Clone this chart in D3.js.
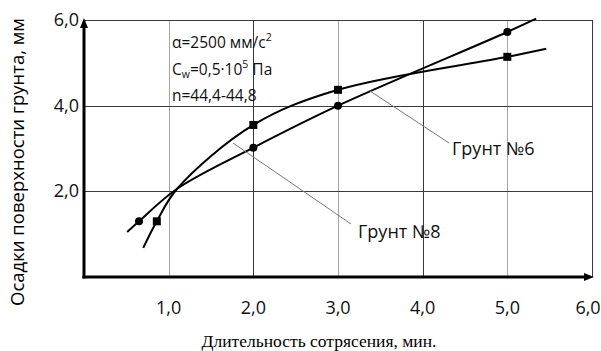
<!DOCTYPE html>
<meta charset="utf-8">
<style>
    body { margin: 0; background: #fff; }
    .grid line { shape-rendering: crispEdges; }
    .tick-label { font-family: "Open Sans", "Noto Sans", sans-serif; font-size: 18px; fill: #111; }
    .note { font-family: "Open Sans", "Noto Sans", sans-serif; font-size: 15.5px; fill: #111; }
    .soil { font-family: "Open Sans", "Noto Sans", sans-serif; font-size: 18px; fill: #111; }
</style>
<svg width="601" height="351"></svg>
<script src="https://d3js.org/d3.v7.min.js"></script>
<script>

    // grid / tick values
    var xTicks = [1, 2, 3, 4, 5, 6];
    var yTicks = [2, 4, 6];
    var xLabels = ["1,0", "2,0", "3,0", "4,0", "5,0", "6,0"];
    var yLabels = ["2,0", "4,0", "6,0"];

    // Грунт №6 (circles)
    var soil6Points = [[0.65, 1.30], [2.0, 3.02], [3.0, 4.0], [5.0, 5.72]];
    var soil6Curve = [[0.51, 1.05], [0.65, 1.30], [1.10, 2.06], [2.0, 3.02], [3.0, 4.0], [5.0, 5.72], [5.34, 6.03]];

    // Грунт №8 (squares)
    var soil8Points = [[0.86, 1.30], [2.0, 3.55], [3.0, 4.37], [5.0, 5.14]];
    var soil8Curve = [[0.70, 0.68], [0.86, 1.30], [1.10, 2.06], [2.0, 3.55], [3.0, 4.37], [5.0, 5.14], [5.46, 5.33]];

    var svg = d3.select("svg");

    var x = d3.scaleLinear().domain([0, 6]).range([84, 592]);
    var y = d3.scaleLinear().domain([0, 6]).range([277, 20]);

    // grid
    var grid = svg.append("g").attr("class", "grid");
    grid.selectAll("line.v")
            .data(xTicks)
            .enter().append("line")
            .attr("x1", function(d) { return Math.round(x(d)) + 0.5; })
            .attr("x2", function(d) { return Math.round(x(d)) + 0.5; })
            .attr("y1", y(6))
            .attr("y2", y(0))
            .attr("stroke", function(d) { return d % 2 ? "#a6a6a6" : "#3a3a3a"; })
            .attr("stroke-width", function(d) { return d % 2 ? 1.5 : 1; });
    grid.selectAll("line.h")
            .data(yTicks)
            .enter().append("line")
            .attr("x1", x(0))
            .attr("x2", x(6))
            .attr("y1", function(d) { return Math.round(y(d)) + 0.5; })
            .attr("y2", function(d) { return Math.round(y(d)) + 0.5; })
            .attr("stroke", "#3a3a3a")
            .attr("stroke-width", 1);

    // axes with arrows
    svg.append("line")
            .attr("x1", x(0)).attr("y1", y(0) + 1.5)
            .attr("x2", x(0)).attr("y2", y(6) + 6)
            .attr("stroke", "#000").attr("stroke-width", 3);
    svg.append("path")
            .attr("d", "M" + x(0) + "," + (y(6) - 2) + "l-4,10h8z")
            .attr("fill", "#000");
    svg.append("line")
            .attr("x1", x(0) - 1.5).attr("y1", y(0))
            .attr("x2", x(6) - 8).attr("y2", y(0))
            .attr("stroke", "#000").attr("stroke-width", 3);
    svg.append("path")
            .attr("d", "M" + (x(6) + 2) + "," + y(0) + "l-10,-4v8z")
            .attr("fill", "#000");

    // tick labels
    svg.selectAll("text.xl")
            .data(xTicks)
            .enter().append("text")
            .attr("class", "tick-label")
            .attr("x", function(d) { return x(d) - (d === 6 ? 4 : 0); })
            .attr("y", 314)
            .attr("text-anchor", "middle")
            .text(function(d, i) { return xLabels[i]; });
    svg.selectAll("text.yl")
            .data(yTicks)
            .enter().append("text")
            .attr("class", "tick-label")
            .attr("x", 79)
            .attr("y", function(d) { return y(d) + 6; })
            .attr("text-anchor", "end")
            .text(function(d, i) { return yLabels[i]; });

    // axis titles
    svg.append("text")
            .attr("x", 319)
            .attr("y", 347)
            .attr("text-anchor", "middle")
            .style("font-family", "'Liberation Serif', 'DejaVu Serif', serif")
            .style("font-size", "17.5px")
            .text("Длительность сотрясения, мин.");
    svg.append("text")
            .attr("transform", "translate(24,162) rotate(-90)")
            .attr("text-anchor", "middle")
            .style("font-family", "'Open Sans', 'Noto Sans', sans-serif")
            .style("font-size", "18.5px")
            .text("Осадки поверхности грунта, мм");

    // curves
    var line = d3.line()
            .x(function(d) { return x(d[0]); })
            .y(function(d) { return y(d[1]); })
            .curve(d3.curveCatmullRom.alpha(0.5));

    svg.append("path")
            .datum(soil6Curve)
            .attr("d", line)
            .attr("fill", "none")
            .attr("stroke", "#000")
            .attr("stroke-width", 2);
    svg.append("path")
            .datum(soil8Curve)
            .attr("d", line)
            .attr("fill", "none")
            .attr("stroke", "#000")
            .attr("stroke-width", 2);

    svg.selectAll("circle.m")
            .data(soil6Points)
            .enter().append("circle")
            .attr("cx", function(d) { return x(d[0]); })
            .attr("cy", function(d) { return y(d[1]); })
            .attr("r", 4)
            .attr("fill", "#000");
    svg.selectAll("rect.m")
            .data(soil8Points)
            .enter().append("rect")
            .attr("x", function(d) { return x(d[0]) - 4; })
            .attr("y", function(d) { return y(d[1]) - 4; })
            .attr("width", 8)
            .attr("height", 8)
            .attr("fill", "#000");

    // leader lines and labels
    svg.append("line")
            .attr("x1", 370).attr("y1", 91).attr("x2", 449).attr("y2", 143)
            .attr("stroke", "#777").attr("stroke-width", 1);
    svg.append("text").attr("class", "soil")
            .attr("x", 452).attr("y", 155)
            .text("Грунт №6");
    svg.append("line")
            .attr("x1", 233).attr("y1", 143).attr("x2", 351).attr("y2", 224)
            .attr("stroke", "#777").attr("stroke-width", 1);
    svg.append("text").attr("class", "soil")
            .attr("x", 358).attr("y", 238)
            .text("Грунт №8");

    // parameters note
    var note = svg.append("g").attr("class", "note");
    var t1 = note.append("text").attr("class", "note").attr("x", 172).attr("y", 48);
    t1.append("tspan").text("α=2500 мм/с");
    t1.append("tspan").attr("dy", -7).style("font-size", "10.5px").text("2");
    var t2 = note.append("text").attr("class", "note").attr("x", 172).attr("y", 75);
    t2.append("tspan").text("C");
    t2.append("tspan").attr("dy", 3).style("font-size", "10.5px").text("w");
    t2.append("tspan").attr("dy", -3).text("=0,5·10");
    t2.append("tspan").attr("dy", -7).style("font-size", "10.5px").text("5");
    t2.append("tspan").attr("dy", 7).text(" Па");
    note.append("text").attr("class", "note").attr("x", 172).attr("y", 101)
            .text("n=44,4-44,8");

</script>
